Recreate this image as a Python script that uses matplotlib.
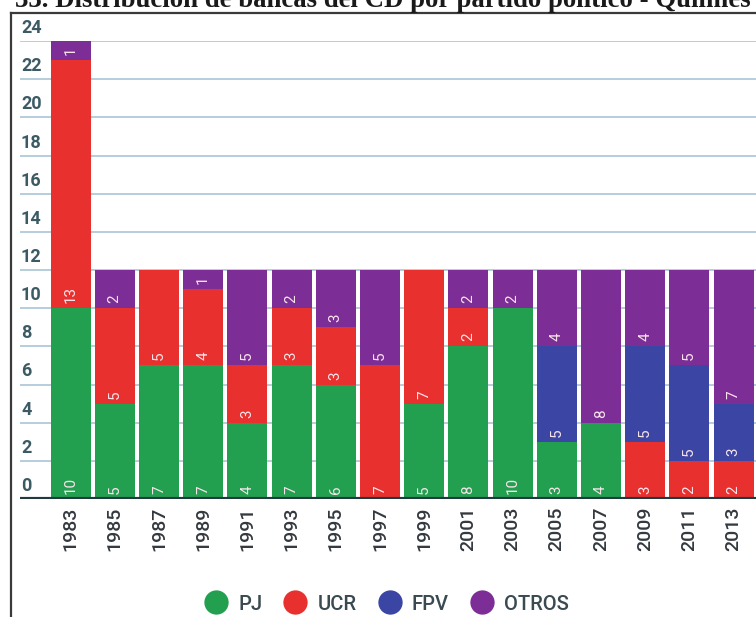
import matplotlib
matplotlib.use("Agg")
import matplotlib.pyplot as plt
import matplotlib.transforms as mtransforms
from matplotlib.lines import Line2D
import numpy as np

# Seats on the Concejo Deliberante by party, per election year
years = ["1983", "1985", "1987", "1989", "1991", "1993", "1995", "1997",
         "1999", "2001", "2003", "2005", "2007", "2009", "2011", "2013"]
pj    = [10, 5, 7, 7, 4, 7, 6, 0, 5, 8, 10, 3, 4, 0, 0, 0]
ucr   = [13, 5, 5, 4, 3, 3, 3, 7, 7, 2, 0, 0, 0, 3, 2, 2]
fpv   = [0, 0, 0, 0, 0, 0, 0, 0, 0, 0, 0, 5, 0, 5, 5, 3]
otros = [1, 2, 0, 1, 5, 2, 3, 5, 0, 2, 2, 4, 8, 4, 5, 7]

parties = ["PJ", "UCR", "FPV", "OTROS"]
series = [pj, ucr, fpv, otros]
colors = ["#23a04f", "#e8302e", "#3b45a3", "#7d2e96"]
y_ticks = list(range(0, 25, 2))

title = "33. Distribución de bancas del CD por partido político - Quilmes"

W, H = 756, 617
DPI = 100
fig = plt.figure(figsize=(W / DPI, H / DPI), dpi=DPI)
fig.patch.set_facecolor("white")

# plot area in pixel terms
left_px, right_px, top_px, bottom_px = 20, 756, 41, 499
ax = fig.add_axes([left_px / W, 1 - bottom_px / H,
                   (right_px - left_px) / W, (bottom_px - top_px) / H])
pitch, first_center = 44.2, 70.5
ax.set_xlim((left_px - first_center) / pitch, (right_px - first_center) / pitch)
ax.set_ylim(0, 24)
for s in ax.spines.values():
    s.set_visible(False)
ax.set_facecolor("none")

# horizontal gridlines
for v in y_ticks[1:]:
    ax.axhline(v, color="#a9c6d6", lw=1.2, zorder=0)

x = np.arange(len(years))
bottom = np.zeros(len(years))
lbl_off = mtransforms.ScaledTranslation(0, 5 / DPI, fig.dpi_scale_trans)
for vals, col in zip(series, colors):
    vals = np.array(vals, dtype=float)
    ax.bar(x, vals, bottom=bottom, width=40 / pitch, color=col,
           edgecolor="none", zorder=2)
    for xi, (b, v) in enumerate(zip(bottom, vals)):
        if v > 0:
            ax.text(xi, b, f"{int(v)}", rotation=90, ha="center", va="bottom",
                    color="#f7e4ea", fontsize=11, family="Roboto",
                    transform=ax.transData + lbl_off, zorder=3)
    bottom += vals

# baseline
ax.axhline(0, color="#1f3b40", lw=3, zorder=4)

# y tick labels sit just above their gridlines
ylab_off = mtransforms.ScaledTranslation(1 / DPI, 4 / DPI, fig.dpi_scale_trans)
for v in y_ticks:
    ax.text(0, v, str(v), transform=ax.get_yaxis_transform() + ylab_off,
            ha="left", va="bottom", fontsize=13, family="Roboto",
            fontweight="bold", color="#3b5a64", zorder=5)
ax.set_yticks([])

ax.set_xticks(x)
ax.set_xticklabels(years, rotation=90, fontsize=14, family="Roboto",
                   fontweight="medium", color="#33393e")
ax.tick_params(axis="x", length=0, pad=5.5)

# legend
handles = [Line2D([], [], marker="o", linestyle="none", markersize=17.5,
                  markerfacecolor=c, markeredgecolor="none") for c in colors]
leg = fig.legend(handles, parties, loc="center", ncol=4, frameon=False,
                 bbox_to_anchor=(386 / W, 1 - 604 / H),
                 prop={"family": "Roboto", "size": 14.5, "weight": "medium"},
                 handletextpad=0.45, columnspacing=1.0, handlelength=1.3)
for t in leg.get_texts():
    t.set_color("#3a4a50")

# frame around the chart
fig.add_artist(Line2D([11 / W, 11 / W], [0, 1 - 13 / H], color="#3a3a3a",
                      lw=1.6, transform=fig.transFigure))
fig.add_artist(Line2D([11 / W, 1], [1 - 13 / H, 1 - 13 / H], color="#3a3a3a",
                      lw=1.6, transform=fig.transFigure))

# heading
fig.text(15 / W, 1 - 7 / H, title, family="Liberation Serif",
         fontweight="bold", fontsize=19.3, color="#1a1a1a",
         ha="left", va="baseline")

fig.savefig("out.png", dpi=DPI)
